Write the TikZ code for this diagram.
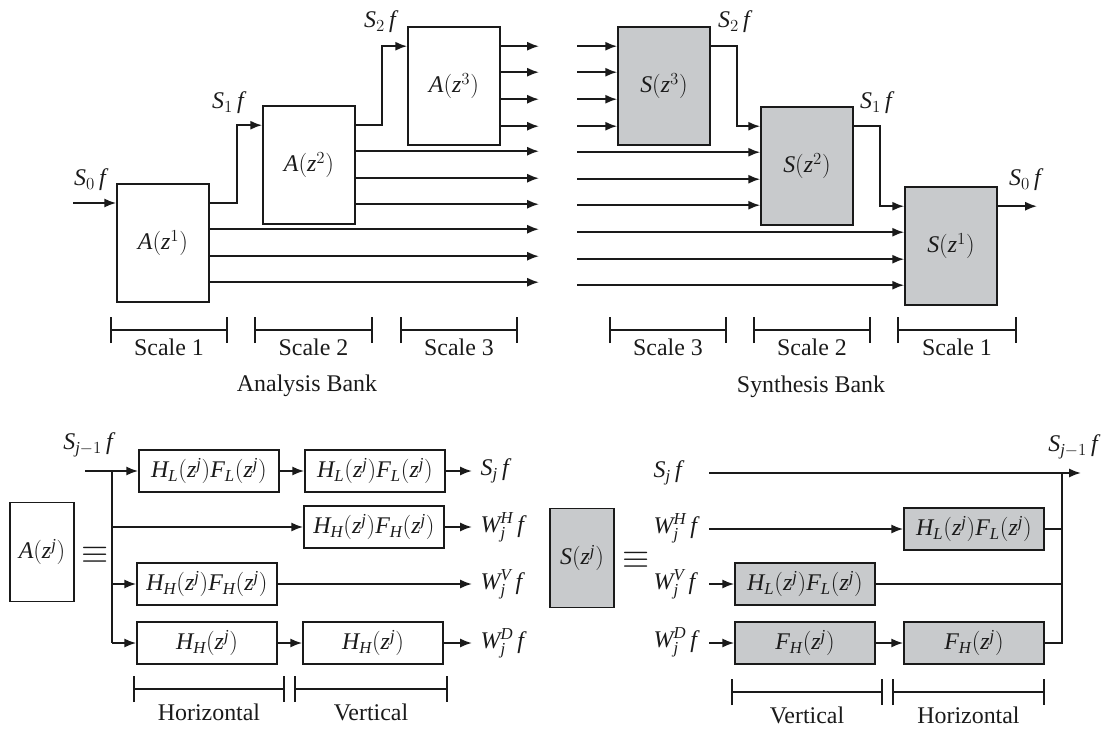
\documentclass[tikz,border=0pt]{standalone}
\usepackage{fontspec}
\setmainfont{Liberation Serif}
\DeclareSymbolFont{letters}{TU}{\rmdefault}{m}{it}
\usepackage{xcolor}
\definecolor{Ink}{HTML}{1A1A1A}
\definecolor{BoxGray}{HTML}{C8CACC}
\usetikzlibrary{arrows.meta, calc}

\begin{document}
\begin{tikzpicture}[x=0.025cm, y=-0.025cm, >={Latex[length=8.5pt,width=6.5pt]},
  every node/.style={font=\fontsize{17}{20}\selectfont, text=Ink},
  abox/.style={rectangle, draw=Ink, line width=1.1pt, fill=white,
               minimum width=2.3cm, minimum height=2.95cm, inner sep=0pt},
  sbox/.style={abox, fill=BoxGray},
  fbox/.style={rectangle, draw=Ink, line width=1.1pt, fill=white,
               minimum width=3.5cm, minimum height=1.05cm, inner sep=0pt},
  gbox/.style={fbox, fill=BoxGray},
  eqbox/.style={rectangle, draw=Ink, line width=1.1pt, fill=white,
                minimum width=1.6cm, minimum height=2.475cm, inner sep=0pt},
  equiv/.style={font=\fontsize{23}{26}\selectfont},
  arr/.style={->, line width=1.35pt, color=Ink},
  wire/.style={line width=1.35pt, color=Ink},
  scalebar/.style={{Bar[width=0.65cm]}-{Bar[width=0.65cm]}, line width=1.1pt, color=Ink},
  lbl/.style={inner sep=1pt}
]
\useasboundingbox (0,0) rectangle (1107,731);

%% ---- Analysis bank: boxes ----
\node[abox] (A1) at (163,243) {$A(z^1)$};
\node[abox] (A2) at (309,165) {$A(z^2)$};
\node[abox] (A3) at (454,86)  {$A(z^3)$};

\coordinate (s0in) at (73,203);
\coordinate (aend) at (539,0);
\coordinate (a1out) at ($(A1.north east)+(0,20)$);
\coordinate (a2in)  at ($(A2.north west)+(0,20)$);
\coordinate (a2out) at ($(A2.north east)+(0,20)$);
\coordinate (a3in)  at ($(A3.north west)+(0,20)$);

%% ---- Analysis bank: signal path ----
\draw[arr] (s0in) -- (s0in -| A1.west);
\draw[arr] (a1out) -- ++(27,0) |- (a2in);
\draw[arr] (a2out) -- ++(26,0) |- (a3in);
\node[lbl] (s0a) at (90,180) {$S_0\,f$};
\node[lbl] (s1a) at (228,103) {$S_1\,f$};
\node[lbl] (s2a) at (380,22)  {$S_2\,f$};

%% ---- Analysis bank: detail outputs ----
\foreach \k in {46,73,99}
  \draw[arr] (A1.north east) ++(0,\k) coordinate (p) -- (p -| aend);
\foreach \k in {46,73,99}
  \draw[arr] (A2.north east) ++(0,\k) coordinate (p) -- (p -| aend);
\foreach \k in {20,46,73,100}
  \draw[arr] (A3.north east) ++(0,\k) coordinate (p) -- (p -| aend);

%% ---- Synthesis bank: boxes ----
\node[sbox] (S3) at (664,86)  {$S(z^3)$};
\node[sbox] (S2) at (807,166) {$S(z^2)$};
\node[sbox] (S1) at (951,246) {$S(z^1)$};

\coordinate (sstart) at (577,0);
\coordinate (send) at (1037,0);

%% ---- Synthesis bank: detail inputs ----
\foreach \k in {20,46,73,100} {
  \path (S3.north west) ++(0,\k) coordinate (p);
  \draw[arr] (p -| sstart) -- (p);
}
\foreach \k in {46,73,99} {
  \path (S2.north west) ++(0,\k) coordinate (p);
  \draw[arr] (p -| sstart) -- (p);
}
\foreach \k in {46,73,99} {
  \path (S1.north west) ++(0,\k) coordinate (p);
  \draw[arr] (p -| sstart) -- (p);
}

%% ---- Synthesis bank: signal path ----
\coordinate (s3out) at ($(S3.north east)+(0,20)$);
\coordinate (s2in)  at ($(S2.north west)+(0,20)$);
\coordinate (s2out) at ($(S2.north east)+(0,20)$);
\coordinate (s1in)  at ($(S1.north west)+(0,20)$);
\coordinate (s1out) at ($(S1.north east)+(0,20)$);
\draw[arr] (s3out) -- ++(26,0) |- (s2in);
\draw[arr] (s2out) -- ++(26,0) |- (s1in);
\draw[arr] (s1out) -- (s1out -| send);
\node[lbl] (s2s) at (734,22)  {$S_2\,f$};
\node[lbl] (s1s) at (876,103) {$S_1\,f$};
\node[lbl] (s0s) at (1025,180) {$S_0\,f$};

%% ---- Scale bars ----
\foreach \xa/\xb/\t/\n in {110/228/Scale 1/sc1, 254/373/Scale 2/sc2, 400/518/Scale 3/sc3,
                           609/727/Scale 3/sc4, 753/871/Scale 2/sc5, 897/1017/Scale 1/sc6}
  \draw[scalebar] (\xa,330) -- node[lbl, below=5pt] (\n) {\t} (\xb,330);
\node[lbl] (anabank) at (307,386) {Analysis Bank};
\node[lbl] (synbank) at (811,387) {Synthesis Bank};

%% ---- A(z^j) detail ----
\node[eqbox] (Aj) at (42,552) {$A(z^j)$};
\node[equiv] (eqA) at (95,555) {$\equiv$};
\node[lbl] (sjm1a) at (88,445) {$S_{j-1}\,f$};
\coordinate (ain) at (85,471);
\coordinate (split) at (112,471);
\coordinate (aout) at (472,0);

\node[fbox] (hl1) at (209,471) {$H_L(z^j)F_L(z^j)$};
\node[fbox] (hl2) at (375,471) {$H_L(z^j)F_L(z^j)$};
\node[fbox] (hh2) at (374,527) {$H_H(z^j)F_H(z^j)$};
\node[fbox] (hh1) at (207,584) {$H_H(z^j)F_H(z^j)$};
\node[fbox] (hd1) at (207,643) {$H_H(z^j)$};
\node[fbox] (hd2) at (373,643) {$H_H(z^j)$};

\node[lbl, anchor=west] (sja) at (479,471) {$S_j\,f$};
\node[lbl, anchor=west] (wha) at (479,527) {$W_j^H\,f$};
\node[lbl, anchor=west] (wva) at (479,584) {$W_j^V\,f$};
\node[lbl, anchor=west] (wda) at (479,643) {$W_j^D\,f$};

\draw[wire] (ain) -- (split) -- (split |- hd1);
\draw[arr] (split) -- (hl1);
\draw[arr] (hl1) -- (hl2);
\draw[arr] (hl2) -- (hl2 -| aout);
\draw[arr] (split |- hh2) -- (hh2);
\draw[arr] (hh2) -- (hh2 -| aout);
\draw[arr] (split |- hh1) -- (hh1);
\draw[arr] (hh1) -- (hh1 -| aout);
\draw[arr] (split |- hd1) -- (hd1);
\draw[arr] (hd1) -- (hd2);
\draw[arr] (hd2) -- (hd2 -| aout);

\draw[scalebar] (133,689) -- node[lbl, below=9pt] (hora) {Horizontal} (285,689);
\draw[scalebar] (294,689) -- node[lbl, below=9pt] (vera) {Vertical} (448,689);

%% ---- S(z^j) detail ----
\node[eqbox, fill=BoxGray] (Sj) at (582,558) {$S(z^j)$};
\node[equiv] (eqS) at (636,560) {$\equiv$};
\node[lbl] (sjm1s) at (1073,447) {$S_{j-1}\,f$};
\coordinate (sin) at (709,0);
\coordinate (col) at (1062,0);
\coordinate (sout) at (1081,0);

\node[lbl, anchor=west] (sjs) at (652,473) {$S_j\,f$};
\node[lbl, anchor=west] (whs) at (652,528) {$W_j^H\,f$};
\node[lbl, anchor=west] (wvs) at (652,584) {$W_j^V\,f$};
\node[lbl, anchor=west] (wds) at (652,642) {$W_j^D\,f$};

\node[gbox] (gh)  at (974,529) {$H_L(z^j)F_L(z^j)$};
\node[gbox] (gv)  at (805,584) {$H_L(z^j)F_L(z^j)$};
\node[gbox] (gd1) at (805,643) {$F_H(z^j)$};
\node[gbox] (gd2) at (974,643) {$F_H(z^j)$};

\draw[arr] (sin |- sjs) -- (sout |- sjs);
\draw[arr] (sin |- gh) -- (gh);
\draw[wire] (gh) -- (col |- gh);
\draw[arr] (sin |- gv) -- (gv);
\draw[wire] (gv) -- (col |- gv);
\draw[arr] (sin |- gd1) -- (gd1);
\draw[arr] (gd1) -- (gd2);
\draw[wire] (gd2) -- (col |- gd2) -- (col |- sjs);

\draw[scalebar] (731,692) -- node[lbl, below=9pt] (vers) {Vertical} (883,692);
\draw[scalebar] (892,692) -- node[lbl, below=9pt] (hors) {Horizontal} (1045,692);

\end{tikzpicture}
\end{document}
